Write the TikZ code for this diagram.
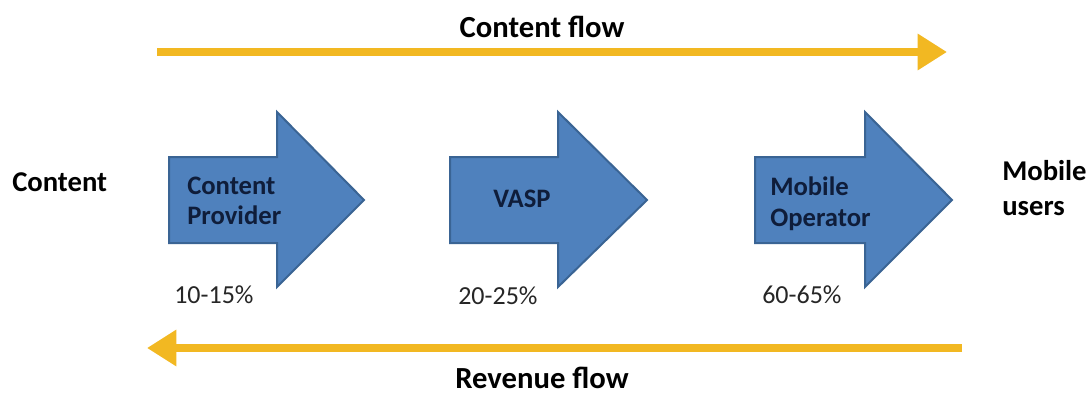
\documentclass[tikz,border=0pt]{standalone}
\usepackage{fontspec}
\setmainfont{Carlito}
\usetikzlibrary{arrows.meta}
\definecolor{gold}{HTML}{F2B822}
\definecolor{bluefill}{HTML}{4F81BD}
\definecolor{blueedge}{HTML}{3A6494}
\definecolor{navy}{HTML}{0F1D3A}
\definecolor{pctgray}{HTML}{262626}
\tikzset{
  flow/.style={draw=gold, line width=6pt, -{Triangle[length=22pt,width=26pt]}},
  bigarrow/.style={fill=bluefill, draw=blueedge, line width=1.5pt, line join=miter},
  inlabel/.style={font=\fontsize{20}{23}\selectfont\bfseries, text=navy, align=left, anchor=west, inner sep=0pt},
  pct/.style={font=\fontsize{19.5}{23}\selectfont, text=pctgray, anchor=west, inner sep=0pt},
  outlabel/.style={font=\fontsize{21.5}{26}\selectfont\bfseries, text=black, align=left, anchor=west, inner sep=0pt},
  flowlabel/.style={font=\fontsize{23}{26}\selectfont\bfseries, text=black, inner sep=0pt}
}
\begin{document}
\begin{tikzpicture}[x=0.75pt,y=-0.75pt]
\useasboundingbox (0,0) rectangle (1090,396);
\fill[white] (0,0) rectangle (1090,396);
% big blue arrows
\foreach \xs/\xb/\xt in {169/277/364, 450/558/647, 755/865/952}{
  \draw[bigarrow] (\xs,157) -- (\xb,157) -- (\xb,112) -- (\xt,200) -- (\xb,287) -- (\xb,243) -- (\xs,243) -- cycle;
}
% labels inside arrows
\node[inlabel] (cp) at (187,201) {Content\\Provider};
\node[inlabel] (vasp) at (493,199) {VASP};
\node[inlabel] (mo) at (770,204) {Mobile\\Operator};
% percentages
\node[pct] (p1) at (174,295) {10-15\%};
\node[pct] (p2) at (458,296) {20-25\%};
\node[pct] (p3) at (762,295) {60-65\%};
% side labels
\node[outlabel] (content) at (12,182) {Content};
\node[outlabel] (users) at (1002,188) {Mobile\\users};
% flows
\coordinate (cfs) at (157,52);
\coordinate (cfe) at (947,52);
\coordinate (rfs) at (962,348);
\coordinate (rfe) at (147,348);
\draw[flow] (cfs) -- (cfe);
\draw[flow] (rfs) -- (rfe);
\node[flowlabel] (cflabel) at (542,27) {Content flow};
\node[flowlabel] (rflabel) at (542,378) {Revenue flow};
\end{tikzpicture}
\end{document}
